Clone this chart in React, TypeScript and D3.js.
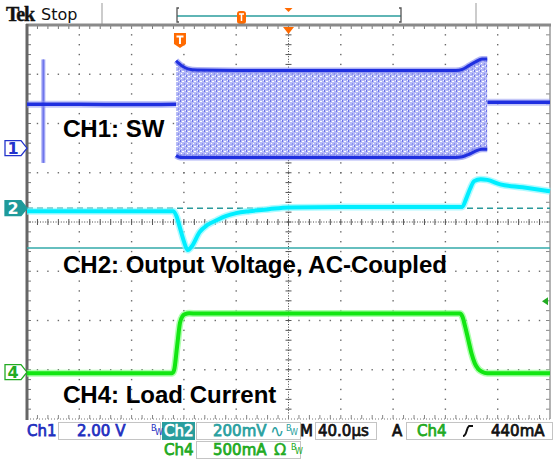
import React from 'react';
import * as d3 from 'd3';

// ---- scope settings ----
const TIME_PER_DIV = 40; // µs / div
const H_DIVS = 10;
const V_DIVS = 8;
const MINOR = 5;

// channel positions (divisions from screen centre) and scales (units / div)
const CH1_POS = 1.5;
const CH1_SCALE = 2.0; // V
const CH2_POS = 0.28;
const CH2_SCALE = 200; // mV
const CH4_POS = -3.05;
const CH4_SCALE = 500; // mA

// ---- CH1: SW (V) ----
const ch1PreTime = [0, 40, 80, 114];
const ch1PreVolt = [1.78, 1.78, 1.77, 1.78];
const ch1PostTime = [352, 380, 400];
const ch1PostVolt = [1.86, 1.86, 1.86];
const ch1SpikeTime = 12.5;
const ch1SpikeHigh = 3.6;
const ch1SpikeLow = -0.6;
const ch1BurstTime = [114, 116, 119, 123, 130, 160, 250, 328, 333, 338, 343, 348, 352];
const ch1BurstHigh = [3.55, 3.45, 3.32, 3.22, 3.17, 3.15, 3.15, 3.15, 3.2, 3.35, 3.5, 3.62, 3.62];
const ch1BurstLow = [-0.3, -0.36, -0.38, -0.38, -0.38, -0.38, -0.38, -0.38, -0.35, -0.25, -0.12, -0.05, -0.05];

// ---- CH2: output voltage (mV, AC coupled) ----
const ch2Time = [0, 112, 114.5, 117, 120, 123, 126, 132, 138, 145, 152, 160, 170, 185, 200, 240, 300, 331, 333, 336, 339, 342, 347, 352, 362, 379, 400];
const ch2mV = [-12, -12, -35, -80, -135, -170, -155, -97, -68, -49, -32, -20, -12, -4, 3, 5, 5, 5, 6, 40, 80, 110, 118, 115, 97, 85, 69];
const ch2RefLine = -162;

// ---- CH4: load current (mA) ----
const ch4Time = [0, 111, 112.5, 114.7, 117, 119, 121, 124, 130, 200, 300, 331, 333, 335, 337.5, 340, 342.5, 345, 348, 352, 400];
const ch4mA = [-10, -10, 20, 250, 500, 570, 590, 598, 595, 595, 595, 595, 565, 470, 330, 190, 90, 35, 5, -10, -10];
const ch4TrigMarker = 720;

// ---- trigger / labels ----
const triggerTime = 117;
const labels = ['CH1: SW', 'CH2: Output Voltage, AC-Coupled', 'CH4: Load Current'];

export default function App() {
  const left = 27, right = 550, top = 25, bottom = 419;
  const x = d3.scaleLinear().domain([0, TIME_PER_DIV * H_DIVS]).range([left, right]);
  const yDiv = d3.scaleLinear().domain([-V_DIVS / 2, V_DIVS / 2]).range([bottom, top]);
  const y1 = (v: number) => yDiv(CH1_POS + v / CH1_SCALE);
  const y2 = (v: number) => yDiv(CH2_POS + v / CH2_SCALE);
  const y4 = (v: number) => yDiv(CH4_POS + v / CH4_SCALE);
  const dx = (right - left) / H_DIVS;
  const dy = (bottom - top) / V_DIVS;
  const cx = x(TIME_PER_DIV * H_DIVS / 2);
  const cy = yDiv(0);

  const mk = (ts: number[], vs: number[], f: (v: number) => number) =>
    d3.line<number>().x((_, i) => x(ts[i])).y((_, i) => f(vs[i])).curve(d3.curveMonotoneX)(ts) as string;

  const ch1Pre = mk(ch1PreTime, ch1PreVolt, y1);
  const ch1Post = mk(ch1PostTime, ch1PostVolt, y1);
  const burstArea = d3.area<number>()
    .x((_, i) => x(ch1BurstTime[i]))
    .y0((_, i) => y1(ch1BurstLow[i]))
    .y1((_, i) => y1(ch1BurstHigh[i]))
    .curve(d3.curveMonotoneX)(ch1BurstTime) as string;
  const burstHigh = mk(ch1BurstTime, ch1BurstHigh, y1);
  const burstLow = mk(ch1BurstTime, ch1BurstLow, y1);
  const ch2Path = mk(ch2Time, ch2mV, y2);
  const ch4Path = mk(ch4Time, ch4mA, y4);

  // graticule elements
  const dots: JSX.Element[] = [];
  for (let i = 1; i < H_DIVS; i++) {
    if (i === H_DIVS / 2) continue;
    const gx = left + i * dx;
    for (let k = 1; k < V_DIVS * MINOR; k++) {
      const gy = top + k * dy / MINOR;
      dots.push(<rect key={`v${i}-${k}`} x={gx - 0.7} y={gy - 0.7} width={1.4} height={1.4} fill="#6a6a6a" />);
    }
  }
  for (let j = 1; j < V_DIVS; j++) {
    if (j === V_DIVS / 2) continue;
    const gy = top + j * dy;
    for (let k = 1; k < H_DIVS * MINOR; k++) {
      const gx = left + k * dx / MINOR;
      dots.push(<rect key={`h${j}-${k}`} x={gx - 0.7} y={gy - 0.7} width={1.4} height={1.4} fill="#6a6a6a" />);
    }
  }
  const ticks: JSX.Element[] = [];
  for (let k = 1; k < H_DIVS * MINOR; k++) {
    const gx = left + k * dx / MINOR;
    ticks.push(<line key={`tt${k}`} x1={gx} x2={gx} y1={top} y2={top + 4} stroke="#777" strokeWidth={1} />);
    ticks.push(<line key={`tb${k}`} x1={gx} x2={gx} y1={bottom - 4} y2={bottom} stroke="#888" strokeWidth={1} />);
    ticks.push(<line key={`tc${k}`} x1={gx} x2={gx} y1={cy - 3} y2={cy + 3} stroke="#555" strokeWidth={1} />);
  }
  for (let k = 1; k < V_DIVS * MINOR; k++) {
    const gy = top + k * dy / MINOR;
    ticks.push(<line key={`tl${k}`} x1={left} x2={left + 4} y1={gy} y2={gy} stroke="#777" strokeWidth={1} />);
    ticks.push(<line key={`tr${k}`} x1={right - 4} x2={right} y1={gy} y2={gy} stroke="#888" strokeWidth={1} />);
    ticks.push(<line key={`tm${k}`} x1={cx - 3} x2={cx + 3} y1={gy} y2={gy} stroke="#555" strokeWidth={1} />);
  }

  const marker = (yc: number, filled: boolean, color: string, label: string) => (
    <g>
      <path d={`M5,${yc - 7.5} L21,${yc - 7.5} L27,${yc} L21,${yc + 7.5} L5,${yc + 7.5} Z`}
        fill={filled ? color : '#fff'} stroke={color} strokeWidth={1.3} />
      <text x={13} y={yc + 6} textAnchor="middle" fontFamily="DejaVu Sans" fontWeight="bold" fontSize={16}
        fill={filled ? '#fff' : color}>{label}</text>
    </g>
  );

  const sb = { fontFamily: 'DejaVu Sans', fontSize: 15, stroke: 'currentColor', strokeWidth: 0.75 } as const;
  const bw = (bx: number, by: number, color: string) => (
    <g fill={color} fontFamily="DejaVu Sans" fontSize={8}>
      <text x={bx} y={by}>B</text>
      <text x={bx + 4} y={by + 4}>W</text>
    </g>
  );

  return (
    <svg width={554} height={459} style={{ position: 'absolute', left: 0, top: 0, background: '#fff' }}>
      <defs>
        <pattern id="burst" width={6} height={5} patternUnits="userSpaceOnUse">
          <rect width={6} height={5} fill="#b4b9f6" />
          <rect x={0} y={0} width={1} height={2} fill="#6c73ea" />
          <rect x={2} y={1} width={2} height={1} fill="#ffffff" />
          <rect x={4} y={3} width={1} height={2} fill="#8a90f0" />
          <rect x={1} y={3} width={1} height={1} fill="#ffffff" />
          <rect x={5} y={0} width={1} height={1} fill="#eef0ff" />
          <rect x={3} y={4} width={1} height={1} fill="#9ea4f3" />
        </pattern>
      </defs>
      <rect width={554} height={459} fill="#fff" />

      {/* header */}
      <text x={6} y={21} fontFamily="Liberation Serif" fontWeight="bold" fontSize={20} letterSpacing={-1.2} fill="#111" stroke="#111" strokeWidth={0.4}>Tek</text>
      <text x={41} y={20} fontFamily="DejaVu Sans" fontSize={16} fill="#111">Stop</text>
      <line x1={102} x2={102} y1={3} y2={24} stroke="#999" strokeWidth={1} />
      <line x1={476} x2={476} y1={3} y2={24} stroke="#999" strokeWidth={1} />
      <line x1={177} x2={401} y1={16} y2={16} stroke="#5fb5b5" strokeWidth={2} />
      <path d="M179,8 L177,8 L177,22 L179,22" fill="none" stroke="#555" strokeWidth={1.3} />
      <path d="M399,8 L401,8 L401,22 L399,22" fill="none" stroke="#555" strokeWidth={1.3} />
      <rect x={237} y={11} width={9} height={13} rx={3} fill="#ff6a00" />
      <path d="M239,14 L244,14 M241.5,14 L241.5,21" stroke="#fff" strokeWidth={1.5} />
      <path d={`M${cx - 4},8 L${cx + 4},8 L${cx},12 Z`} fill="#ff6a00" />

      {/* graticule */}
      {dots}
      <line x1={cx} x2={cx} y1={top} y2={bottom} stroke="#444" strokeWidth={1} strokeDasharray="1 1.6" />
      <line x1={left} x2={right} y1={cy} y2={cy} stroke="#444" strokeWidth={1} strokeDasharray="1 1.6" />
      {ticks}
      <line x1={left} x2={right} y1={bottom} y2={bottom} stroke="#777" strokeWidth={1} strokeDasharray="1 2" />
      <line x1={right} x2={right} y1={top} y2={bottom} stroke="#9a9a9a" strokeWidth={1.5} />
      <line x1={left - 1} x2={right + 1} y1={top} y2={top} stroke="#8a8a8a" strokeWidth={3} />
      <line x1={left} x2={left} y1={top - 1} y2={bottom + 1} stroke="#666" strokeWidth={3} />

      {/* CH2 reference lines */}
      <line x1={left} x2={right} y1={y2(0)} y2={y2(0)} stroke="#2a9a9a" strokeWidth={1.5} strokeDasharray="6 4" />
      <line x1={left} x2={right} y1={y2(ch2RefLine)} y2={y2(ch2RefLine)} stroke="#33aaaa" strokeWidth={1.5} />

      {/* CH1 */}
      <line x1={x(ch1SpikeTime)} x2={x(ch1SpikeTime)} y1={y1(ch1SpikeHigh)} y2={y1(ch1SpikeLow)} stroke="#a4a9f4" strokeWidth={4} />
      <line x1={x(ch1SpikeTime)} x2={x(ch1SpikeTime)} y1={y1(ch1SpikeHigh)} y2={y1(ch1SpikeLow)} stroke="#6f76ec" strokeWidth={1.5} />
      <path d={ch1Pre} fill="none" stroke="#8a90f2" strokeWidth={7} strokeOpacity={0.5} />
      <path d={ch1Pre} fill="none" stroke="#1f2fe0" strokeWidth={3.5} />
      <path d={ch1Post} fill="none" stroke="#8a90f2" strokeWidth={7} strokeOpacity={0.5} />
      <path d={ch1Post} fill="none" stroke="#1f2fe0" strokeWidth={3.5} />
      <path d={burstArea} fill="url(#burst)" />
      <path d={burstHigh} fill="none" stroke="#7a80ee" strokeWidth={6} strokeOpacity={0.6} />
      <path d={burstLow} fill="none" stroke="#7a80ee" strokeWidth={6} strokeOpacity={0.6} />
      <path d={burstHigh} fill="none" stroke="#2030e0" strokeWidth={3} />
      <path d={burstLow} fill="none" stroke="#2030e0" strokeWidth={3} />

      {/* CH2 */}
      <path d={ch2Path} fill="none" stroke="#8ff8ff" strokeWidth={7} strokeOpacity={0.7} />
      <path d={ch2Path} fill="none" stroke="#00eeff" strokeWidth={4} />

      {/* CH4 */}
      <path d={ch4Path} fill="none" stroke="#8cff8c" strokeWidth={7} strokeOpacity={0.7} />
      <path d={ch4Path} fill="none" stroke="#12e612" strokeWidth={4} />
      <path d={`M${right - 8},${y4(ch4TrigMarker)} L${right - 2},${y4(ch4TrigMarker) - 4} L${right - 2},${y4(ch4TrigMarker) + 4} Z`} fill="#22aa22" />

      {/* trigger markers */}
      <path d={`M${cx - 5.5},${top + 2} L${cx + 5.5},${top + 2} L${cx},${top + 9} Z`} fill="#ff6a00" />
      <path d={`M${x(triggerTime) - 6},33 L${x(triggerTime) + 6},33 L${x(triggerTime) + 6},44 L${x(triggerTime)},48 L${x(triggerTime) - 6},44 Z`} fill="#ff6a00" />
      <path d={`M${x(triggerTime) - 3.5},36.5 L${x(triggerTime) + 3.5},36.5 M${x(triggerTime)},36.5 L${x(triggerTime)},44`} stroke="#fff" strokeWidth={2} />

      {/* channel markers */}
      {marker(y1(0), false, '#2233cc', '1')}
      {marker(y2(0), true, '#1f9a9a', '2')}
      {marker(y4(0), false, '#22aa22', '4')}

      {/* labels */}
      <g fontFamily="Liberation Sans, Arial" fontWeight="bold" fontSize={24} fill="#000">
        <text x={63} y={137}>{labels[0]}</text>
        <text x={63} y={273}>{labels[1]}</text>
        <text x={63} y={403}>{labels[2]}</text>
      </g>

      {/* status bar */}
      <g fill="none" stroke="#c4c4c4" strokeWidth={1}>
        <rect x={58.5} y={422.5} width={102} height={17} />
        <rect x={196.5} y={422.5} width={104} height={17} />
        <rect x={315.5} y={422.5} width={61} height={17} />
        <rect x={406.5} y={422.5} width={146} height={17} />
        <rect x={196.5} y={441.5} width={104} height={17} />
      </g>
      <rect x={162} y={422} width={33} height={18} fill="#2a9d9d" />
      <g style={{ color: '#1f2fbf' }} fill="#1f2fbf">
        <text x={27} y={436} {...sb}>Ch1</text>
        <text x={77} y={436} {...sb}>2.00 V</text>
      </g>
      {bw(151, 431, '#1f2fbf')}
      <g style={{ color: '#ffffff' }} fill="#ffffff">
        <text x={164} y={436} {...sb}>Ch2</text>
      </g>
      <g style={{ color: '#2aa0a0' }} fill="#2aa0a0">
        <text x={213} y={436} {...sb}>200mV</text>
        <text x={270} y={437} fontFamily="DejaVu Sans" fontSize={17}>∿</text>
      </g>
      {bw(286, 431, '#2aa0a0')}
      <g style={{ color: '#111' }} fill="#111">
        <text x={300} y={436} {...sb}>M</text>
        <text x={318} y={436} {...sb}>40.0µs</text>
        <text x={392} y={436} {...sb}>A</text>
        <text x={491} y={436} {...sb}>440mA</text>
      </g>
      <path d="M463,436 C467,436 466,428 469,426 L473,426" fill="none" stroke="#111" strokeWidth={2} />
      <g style={{ color: '#22aa22' }} fill="#22aa22">
        <text x={417} y={436} {...sb}>Ch4</text>
        <text x={164} y={455} {...sb}>Ch4</text>
        <text x={213} y={455} {...sb}>500mA</text>
        <text x={274} y={455} fontFamily="DejaVu Sans" fontSize={16} stroke="#22aa22" strokeWidth={0.5}>Ω</text>
      </g>
      {bw(291, 450, '#22aa22')}
    </svg>
  );
}
